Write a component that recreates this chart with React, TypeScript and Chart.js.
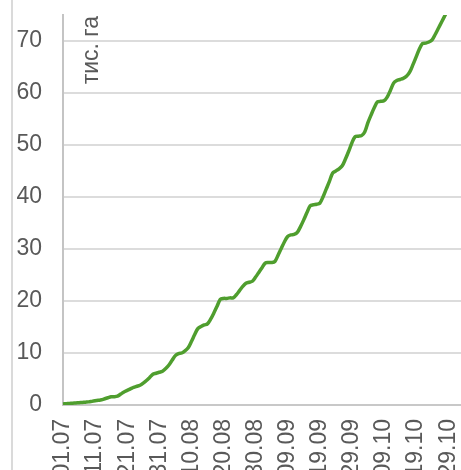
import React, { useEffect, useRef } from "react";
import { Chart, registerables } from "chart.js";

Chart.register(...registerables);

// Daily categories starting 01.07 (125 days, to 02.11)
const START_DAY = 1;
const START_MONTH = 7;
const DAY_COUNT = 125;
const TICK_EVERY = 10;

// Cumulative area, thousand ha (daily)
const values: number[] = [
  0.2, 0.25, 0.3, 0.35, 0.4, 0.45, 0.5, 0.55, 0.6, 0.7,
  0.8, 0.9, 1.0, 1.2, 1.4, 1.6, 1.6, 1.7, 2.1, 2.5,
  2.8, 3.1, 3.4, 3.6, 3.8, 4.2, 4.7, 5.3, 5.9, 6.1,
  6.3, 6.5, 7.0, 7.7, 8.6, 9.5, 9.9, 10.0, 10.4, 11.0,
  12.2, 13.5, 14.7, 15.1, 15.4, 15.6, 16.5, 17.7, 19.0, 20.3,
  20.5, 20.5, 20.6, 20.6, 21.2, 22.0, 22.8, 23.4, 23.6, 23.8,
  24.6, 25.5, 26.4, 27.3, 27.4, 27.4, 27.6, 28.8, 30.1, 31.4,
  32.4, 32.7, 32.8, 33.2, 34.3, 35.6, 37.0, 38.3, 38.5, 38.6,
  38.8, 40.0, 41.5, 43.0, 44.6, 45.0, 45.4, 46.0, 47.3, 48.8,
  50.4, 51.6, 51.7, 51.8, 52.5, 54.3, 55.8, 57.2, 58.3, 58.4,
  58.5, 59.2, 60.5, 61.9, 62.4, 62.6, 62.8, 63.2, 64.0, 65.4,
  66.9, 68.4, 69.5, 69.6, 69.8, 70.2, 71.3, 72.5, 73.7, 74.9,
  76.1,
];

const UNIT_LABEL = "тис. га";
const Y_MIN = 0;
const Y_MAX = 75;
const Y_TICKS = [0, 10, 20, 30, 40, 50, 60, 70];

function buildCategories(): string[] {
  const out: string[] = [];
  const d0 = new Date(2021, START_MONTH - 1, START_DAY);
  for (let i = 0; i < DAY_COUNT; i++) {
    const d = new Date(d0.getFullYear(), d0.getMonth(), d0.getDate() + i);
    const dd = String(d.getDate()).padStart(2, "0");
    const mm = String(d.getMonth() + 1).padStart(2, "0");
    out.push(dd + "." + mm);
  }
  return out;
}

const FONT = "'Liberation Sans', Arial, sans-serif";
const TEXT = "#595959";

function zeroPadding(s: any) {
  s.paddingLeft = 0;
  s.paddingRight = 0;
  s.paddingTop = 0;
  s.paddingBottom = 0;
}

export default function App() {
  const ref = useRef<HTMLCanvasElement | null>(null);

  useEffect(() => {
    if (!ref.current) return;
    const categories = buildCategories();
    const unitPlugin = {
      id: "unitLabel",
      afterDraw(chart: any) {
        const { ctx, chartArea } = chart;
        ctx.save();
        ctx.translate(chartArea.left + 35, chartArea.top + 1);
        ctx.rotate(-Math.PI / 2);
        ctx.font = `23px ${FONT}`;
        ctx.fillStyle = TEXT;
        ctx.textAlign = "right";
        ctx.textBaseline = "alphabetic";
        ctx.fillText(UNIT_LABEL, 0, 0);
        ctx.restore();
      },
    };
    const chart = new Chart(ref.current, {
      type: "line",
      data: {
        labels: categories,
        datasets: [
          {
            data: values,
            borderColor: "#4f9e2e",
            borderWidth: 3.5,
            pointRadius: 0,
            tension: 0.3,
            fill: false,
          },
        ],
      },
      options: {
        responsive: false,
        animation: false,
        devicePixelRatio: 1,
        layout: { autoPadding: false, padding: { left: 0, right: 20, top: 15, bottom: 0 } },
        plugins: { legend: { display: false }, tooltip: { enabled: false } },
        scales: {
          x: {
            type: "category",
            offset: false,
            grid: { display: false, drawTicks: false },
            border: { display: true, color: "#c8c8c8", width: 2 },
            ticks: {
              autoSkip: false,
              maxRotation: 90,
              minRotation: 90,
              padding: 14,
              color: TEXT,
              font: { size: 23, family: FONT },
              callback: (_v: any, i: number) =>
                i % TICK_EVERY === 0 ? categories[i] : "",
            },
            afterFit: (s: any) => {
              s.height = 65;
              zeroPadding(s);
            },
          },
          y: {
            type: "linear",
            min: Y_MIN,
            max: Y_MAX,
            grid: { display: true, color: "#dcdcdc", lineWidth: 2, drawTicks: false },
            border: { display: true, color: "#c4c4c4", width: 2 },
            ticks: {
              padding: 21,
              color: TEXT,
              font: { size: 23, family: FONT },
            },
            afterBuildTicks: (s: any) => {
              s.ticks = Y_TICKS.map((v) => ({ value: v }));
            },
            afterFit: (s: any) => {
              s.width = 63;
              zeroPadding(s);
            },
          },
        },
      },
      plugins: [unitPlugin],
    });
    return () => chart.destroy();
  }, []);

  return (
    <div
      style={{
        position: "absolute",
        left: 0,
        top: 0,
        width: 461,
        height: 470,
        overflow: "hidden",
        background: "#ffffff",
      }}
    >
      <div
        style={{
          position: "absolute",
          left: 11,
          top: 0,
          width: 2,
          height: 470,
          background: "#dadada",
        }}
      />
      <canvas
        ref={ref}
        width={481}
        height={470}
        style={{ position: "absolute", left: 0, top: 0 }}
      />
    </div>
  );
}
